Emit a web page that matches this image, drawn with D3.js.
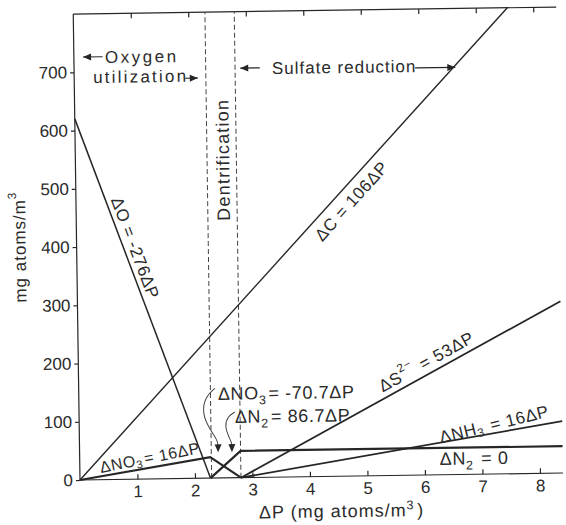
<!DOCTYPE html>
<html>
<head>
<meta charset="utf-8">
<script src="https://cdn.jsdelivr.net/npm/d3@7"></script>
<style>
	body { margin: 0; background: #fff; }
	svg { display: block; font-family: "Liberation Sans", Arial, sans-serif; }
	text { fill: #2b2b2b; }
</style>
</head>
<body>
<svg id="chart" width="566" height="525"></svg>
<script>
// values (ΔP in mg atoms/m3, y in mg atoms/m3)
const xTicks = [1, 2, 3, 4, 5, 6, 7, 8];
const yTicks = [0, 100, 200, 300, 400, 500, 600, 700];

const oxygen = [[0, 620], [2.27, 0]];
const carbon = [[0, 0], [7.55, 800]];
const nitrate = [[0, 0], [2.27, 36], [2.8, 0]];
const nitrogen = [[2.27, 0], [2.8, 46], [8.4, 46]];
const sulfide = [[2.8, 0], [8.4, 295]];
const ammonia = [[2.8, 0], [8.4, 89]];
const zoneBounds = [2.29, 2.8];

const svg = d3.select('#chart');

// the scanned figure sits a little askew, so the whole drawing is turned slightly
const root = svg.append('g').attr('transform', 'rotate(-0.83,80,480)');

const x = d3.scaleLinear().domain([0, 8.4]).range([80, 563]);
const y = d3.scaleLinear().domain([0, 800]).range([480, 14]);

const ink = '#262626';

// frame: left axis, bottom axis, top edge
root.append('g')
	.attr('transform', 'translate(0,480)')
	.call(d3.axisBottom(x).tickValues(xTicks).tickSize(-5).tickPadding(6).tickFormat(d3.format('d')))
	.call((g) => g.select('.domain').attr('d', 'M80,0H563'))
	.call((g) => g.selectAll('text').attr('font-size', 17).attr('fill', '#333'))
	.call((g) => g.selectAll('line, path').attr('stroke', ink).attr('stroke-width', 1.2));

root.append('g')
	.attr('transform', 'translate(0,14)')
	.call(d3.axisTop(x).tickValues(xTicks).tickSize(-5).tickFormat(''))
	.call((g) => g.select('.domain').attr('d', 'M80,0H563'))
	.call((g) => g.selectAll('line, path').attr('stroke', ink).attr('stroke-width', 1.2));

root.append('g')
	.attr('transform', 'translate(80,0)')
	.call(d3.axisLeft(y).tickValues(yTicks).tickSize(4).tickPadding(3).tickFormat(d3.format('d')))
	.call((g) => g.select('.domain').attr('d', 'M0,480V14'))
	.call((g) => g.selectAll('text').attr('font-size', 17).attr('fill', '#333'))
	.call((g) => g.selectAll('line, path').attr('stroke', ink).attr('stroke-width', 1.2));

// zone boundaries
root.selectAll('.zone')
	.data(zoneBounds)
	.enter()
	.append('line')
	.attr('class', 'zone')
	.attr('x1', (d) => x(d))
	.attr('x2', (d) => x(d))
	.attr('y1', y(0))
	.attr('y2', y(800))
	.attr('stroke', '#444')
	.attr('stroke-width', 1)
	.attr('stroke-dasharray', '5,3');

const line = d3.line()
	.x((d) => x(d[0]))
	.y((d) => y(d[1]));

const series = [
	{pts: oxygen, w: 1.5},
	{pts: carbon, w: 1.4},
	{pts: nitrate, w: 2.2},
	{pts: nitrogen, w: 2.2},
	{pts: sulfide, w: 1.8},
	{pts: ammonia, w: 1.8}
];

root.selectAll('.series')
	.data(series)
	.enter()
	.append('path')
	.attr('class', 'series')
	.attr('d', (d) => line(d.pts))
	.attr('fill', 'none')
	.attr('stroke', ink)
	.attr('stroke-width', (d) => d.w);

// text made of plain pieces plus sub/superscripts
function addParts(t, parts, size) {
	parts.forEach((p) => {
		if (typeof p === 'string') {
			t.append('tspan').text(p);
		}
		else {
			let shift = p.sub ? 5 : -7;
			t.append('tspan').attr('dy', shift).attr('font-size', size * 0.7).text(p.sub || p.sup);
			t.append('tspan').attr('dy', -shift).text('\u200a');
		}
	});
}

// label lying along a line segment
function lineLabel(seg, vx, offset, parts, size, angle) {
	let p0 = seg[0], p1 = seg[1];
	let vy = p0[1] + (p1[1] - p0[1]) * (vx - p0[0]) / (p1[0] - p0[0]);
	let a = angle !== undefined ? angle :
		Math.atan2(y(p1[1]) - y(p0[1]), x(p1[0]) - x(p0[0])) * 180 / Math.PI;

	let t = root.append('text')
		.attr('transform', 'translate(' + x(vx) + ',' + y(vy) + ') rotate(' + a + ')')
		.attr('y', offset)
		.attr('text-anchor', 'middle')
		.attr('dominant-baseline', 'central')
		.attr('font-size', size)
		.attr('letter-spacing', 0.6);

	addParts(t, parts, size);
}

lineLabel(oxygen, 0.84, -11, ['ΔO = -276ΔP'], 17);
lineLabel(carbon, 4.61, 14, ['ΔC = 106ΔP'], 17);
lineLabel([nitrate[0], nitrate[1]], 1.25, -10.5, ['ΔNO', {sub: '3'}, '= 16ΔP'], 16, -10.5);
lineLabel(sulfide, 6.15, -12, ['ΔS', {sup: '2\u2212'}, ' = 53ΔP'], 17);
lineLabel(ammonia, 7.25, -9, ['ΔNH', {sub: '3'}, ' = 16ΔP'], 17, -13);

// free labels
function freeLabel(vx, vy, parts, size, anchor) {
	let t = root.append('text')
		.attr('x', x(vx))
		.attr('y', y(vy))
		.attr('text-anchor', anchor || 'start')
		.attr('font-size', size)
		.attr('letter-spacing', 0.6);

	addParts(t, parts, size);

	return t;
}

freeLabel(2.42, 134, ['ΔNO', {sub: '3'}, '= -70.7ΔP'], 18);
freeLabel(2.71, 94, ['ΔN', {sub: '2'}, '= 86.7ΔP'], 18);
freeLabel(6.26, 17, ['ΔN', {sub: '2'}, ' = 0'], 18);

freeLabel(0.54, 715, ['Oxygen'], 17).attr('letter-spacing', 2.5);
freeLabel(0.33, 681, ['utilization'], 17).attr('letter-spacing', 2.2);
freeLabel(3.44, 692, ['Sulfate reduction'], 17).attr('letter-spacing', 1);

root.append('text')
	.attr('transform', 'translate(' + x(2.57) + ',' + y(546) + ') rotate(-90)')
	.attr('text-anchor', 'middle')
	.attr('dominant-baseline', 'central')
	.attr('font-size', 18)
	.attr('letter-spacing', 1.2)
	.text('Dentrification');

// axis titles
let xTitle = root.append('text')
	.attr('x', 341)
	.attr('y', 521)
	.attr('text-anchor', 'middle')
	.attr('font-size', 18)
	.attr('letter-spacing', 1);
addParts(xTitle, ['ΔP (mg atoms/m', {sup: '3'}, ')'], 18);

let yTitle = root.append('text')
	.attr('transform', 'translate(23,245) rotate(-90)')
	.attr('text-anchor', 'middle')
	.attr('dominant-baseline', 'central')
	.attr('font-size', 17)
	.attr('letter-spacing', 1);
addParts(yTitle, ['mg atoms/m', {sup: '3'}], 17);

// arrows
function head(px, py, dir) {
	// dir: angle in degrees that the tip points to
	root.append('path')
		.attr('d', 'M0,0L-8,-3.5L-8,3.5Z')
		.attr('transform', 'translate(' + px + ',' + py + ') rotate(' + dir + ')')
		.attr('fill', ink);
}

function straightArrow(fromX, toX, vy) {
	root.append('line')
		.attr('x1', x(fromX)).attr('x2', x(toX))
		.attr('y1', y(vy)).attr('y2', y(vy))
		.attr('stroke', ink)
		.attr('stroke-width', 1.2);
	head(x(toX), y(vy), toX < fromX ? 180 : 0);
}

straightArrow(0.5, 0.16, 726);
straightArrow(1.93, 2.15, 687);
straightArrow(3.23, 2.89, 703);
straightArrow(5.93, 6.63, 699);

// curly pointers to the denitrification segments
const curl = d3.line().curve(d3.curveBasis).x((d) => x(d[0])).y((d) => y(d[1]));

const curls = [
	[[2.37, 154], [2.2, 140], [2.14, 112], [2.26, 85], [2.41, 64], [2.41, 52]],
	[[2.71, 113], [2.58, 105], [2.53, 88], [2.6, 70], [2.65, 60], [2.65, 52]]
];

root.selectAll('.curl')
	.data(curls)
	.enter()
	.append('path')
	.attr('class', 'curl')
	.attr('d', curl)
	.attr('fill', 'none')
	.attr('stroke', '#444')
	.attr('stroke-width', 1);

curls.forEach((c) => {
	head(x(c[c.length - 1][0]), y(44), 90);
});
</script>
</body>
</html>
